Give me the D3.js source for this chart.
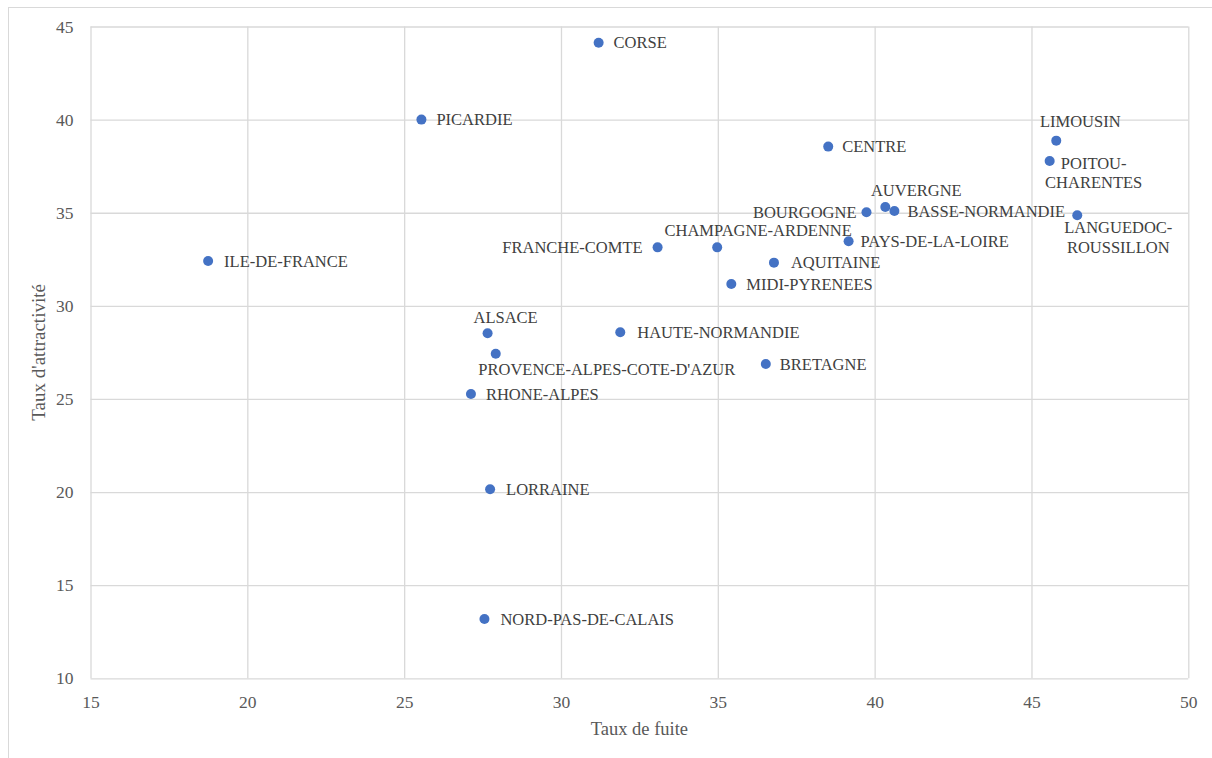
<!DOCTYPE html>
<html>
<head>
<meta charset="utf-8">
<script src="https://cdn.jsdelivr.net/npm/d3@7"></script>
<style>
  html, body { margin: 0; padding: 0; background: #fff; }
  svg { display: block; }
</style>
</head>
<body>
<svg id="chart" width="1212" height="758"></svg>
<script>
// ---- Data ----
const regions = [
  "CORSE", "PICARDIE", "ILE-DE-FRANCE", "CENTRE", "LIMOUSIN", "POITOU-CHARENTES",
  "AUVERGNE", "BOURGOGNE", "BASSE-NORMANDIE", "LANGUEDOC-ROUSSILLON", "PAYS-DE-LA-LOIRE",
  "FRANCHE-COMTE", "CHAMPAGNE-ARDENNE", "AQUITAINE", "MIDI-PYRENEES", "ALSACE",
  "HAUTE-NORMANDIE", "PROVENCE-ALPES-COTE-D'AZUR", "BRETAGNE", "RHONE-ALPES",
  "LORRAINE", "NORD-PAS-DE-CALAIS"
];
const tauxFuite = [
  31.2, 25.55, 18.75, 38.52, 45.79, 45.58,
  40.34, 39.74, 40.63, 46.46, 39.17,
  33.08, 34.98, 36.79, 35.43, 27.66,
  31.89, 27.92, 36.53, 27.13,
  27.74, 27.56
];
const tauxAttractivite = [
  44.13, 40.0, 32.41, 38.55, 38.87, 37.78,
  35.31, 35.03, 35.09, 34.86, 33.47,
  33.14, 33.14, 32.32, 31.17, 28.53,
  28.58, 27.43, 26.88, 25.27,
  20.15, 13.18
];
const xTicks = [15, 20, 25, 30, 35, 40, 45, 50];
const yTicks = [10, 15, 20, 25, 30, 35, 40, 45];
const xTitle = "Taux de fuite";
const yTitle = "Taux d'attractivité";

// ---- Label placement (layout only) ----
const labelLayout = {
  "CORSE": {anchor: "start", dx: 15, dy: [0]},
  "PICARDIE": {anchor: "start", dx: 15, dy: [0]},
  "ILE-DE-FRANCE": {anchor: "start", dx: 16, dy: [0]},
  "CENTRE": {anchor: "start", dx: 14, dy: [0]},
  "LIMOUSIN": {anchor: "middle", dx: 24, dy: [-19]},
  "POITOU-CHARENTES": {anchor: "middle", dx: 44, dy: [2, 21], lines: ["POITOU-", "CHARENTES"]},
  "AUVERGNE": {anchor: "middle", dx: 31, dy: [-17]},
  "BOURGOGNE": {anchor: "end", dx: -10, dy: [0]},
  "BASSE-NORMANDIE": {anchor: "start", dx: 13, dy: [0]},
  "LANGUEDOC-ROUSSILLON": {anchor: "middle", dx: 41, dy: [12, 32], lines: ["LANGUEDOC-", "ROUSSILLON"]},
  "PAYS-DE-LA-LOIRE": {anchor: "start", dx: 12, dy: [0]},
  "FRANCHE-COMTE": {anchor: "end", dx: -15, dy: [0]},
  "CHAMPAGNE-ARDENNE": {anchor: "middle", dx: 41, dy: [-17]},
  "AQUITAINE": {anchor: "start", dx: 17, dy: [0]},
  "MIDI-PYRENEES": {anchor: "start", dx: 15, dy: [0]},
  "ALSACE": {anchor: "middle", dx: 18, dy: [-16]},
  "HAUTE-NORMANDIE": {anchor: "start", dx: 17, dy: [0]},
  "PROVENCE-ALPES-COTE-D'AZUR": {anchor: "middle", dx: 111, dy: [16]},
  "BRETAGNE": {anchor: "start", dx: 14, dy: [0]},
  "RHONE-ALPES": {anchor: "start", dx: 15, dy: [0]},
  "LORRAINE": {anchor: "start", dx: 16, dy: [0]},
  "NORD-PAS-DE-CALAIS": {anchor: "start", dx: 16, dy: [0]}
};

const points = regions.map((name, i) => ({name, x: tauxFuite[i], y: tauxAttractivite[i]}));

const svg = d3.select("#chart");
const W = 1212, H = 758;
const plot = {left: 90.5, right: 1188.3, top: 26.5, bottom: 678.3};
const font = "'Liberation Serif', 'Times New Roman', serif";
const axisColor = "#595959";
const gridColor = "#d9d9d9";

// Outer frame
svg.append("rect")
  .attr("x", 8.5).attr("y", 7.5)
  .attr("width", W + 10).attr("height", H + 10)
  .attr("fill", "#fff").attr("stroke", gridColor).attr("stroke-width", 1);

const x = d3.scaleLinear().domain([15, 50]).range([plot.left, plot.right]);
const y = d3.scaleLinear().domain([10, 45]).range([plot.bottom, plot.top]);

// Gridlines via axes
const xGrid = svg.append("g")
  .attr("transform", `translate(0,${plot.bottom})`)
  .call(d3.axisBottom(x).tickValues(xTicks).tickSize(-(plot.bottom - plot.top)).tickFormat(""));
xGrid.select(".domain").remove();
xGrid.selectAll("line").attr("stroke", gridColor).attr("stroke-width", 1.3);

const yGrid = svg.append("g")
  .attr("transform", `translate(${plot.left},0)`)
  .call(d3.axisLeft(y).tickValues(yTicks).tickSize(-(plot.right - plot.left)).tickFormat(""));
yGrid.select(".domain").remove();
yGrid.selectAll("line").attr("stroke", gridColor).attr("stroke-width", 1.3);

// Tick labels via axes
const xAxis = svg.append("g")
  .attr("transform", `translate(0,${plot.bottom})`)
  .call(d3.axisBottom(x).tickValues(xTicks).tickSize(0).tickPadding(17).tickFormat(d3.format("d")));
xAxis.select(".domain").remove();
xAxis.selectAll("text")
  .attr("font-family", font).attr("font-size", "17.5px").attr("fill", axisColor);

const yAxis = svg.append("g")
  .attr("transform", `translate(${plot.left},0)`)
  .call(d3.axisLeft(y).tickValues(yTicks).tickSize(0).tickPadding(17).tickFormat(d3.format("d")));
yAxis.select(".domain").remove();
yAxis.selectAll("text")
  .attr("font-family", font).attr("font-size", "17.5px").attr("fill", axisColor);

// Axis titles
svg.append("text")
  .attr("x", (plot.left + plot.right) / 2).attr("y", 735)
  .attr("text-anchor", "middle")
  .attr("font-family", font).attr("font-size", "18.5px").attr("fill", axisColor)
  .text(xTitle);

svg.append("text")
  .attr("transform", `translate(45,${(plot.top + plot.bottom) / 2}) rotate(-90)`)
  .attr("text-anchor", "middle")
  .attr("font-family", font).attr("font-size", "19px").attr("fill", axisColor)
  .text(yTitle);

// Points
svg.append("g").selectAll("circle")
  .data(points).join("circle")
  .attr("cx", d => x(d.x)).attr("cy", d => y(d.y))
  .attr("r", 5)
  .attr("fill", "#4472C4");

// Labels
const labels = svg.append("g");
points.forEach(d => {
  const lay = labelLayout[d.name];
  const lines = lay.lines || [d.name];
  lines.forEach((ln, k) => {
    labels.append("text")
      .attr("x", x(d.x) + lay.dx)
      .attr("y", y(d.y) + lay.dy[k])
      .attr("dy", "0.35em")
      .attr("text-anchor", lay.anchor)
      .attr("font-family", font).attr("font-size", "16.5px").attr("fill", "#404040")
      .text(ln);
  });
});
</script>
</body>
</html>
